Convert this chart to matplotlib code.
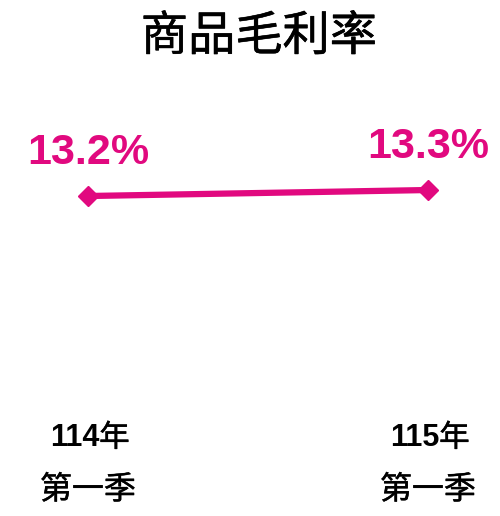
import matplotlib
matplotlib.use('Agg')
import matplotlib.pyplot as plt
import matplotlib.transforms as mtransforms
import matplotlib.patheffects as pe

plt.rcParams['font.family'] = ['Liberation Sans', 'Noto Sans CJK TC', 'DejaVu Sans']
cjk = ['Noto Sans CJK TC', 'DejaVu Sans']
semi = [pe.withStroke(linewidth=0.3, foreground='black')]

# 資料
years = ['114', '115']
year_suffix = '年'
quarters = ['第一季', '第一季']
margin = [13.2, 13.3]
labels = ['13.2%', '13.3%']

color = '#E1097F'

fig = plt.figure(figsize=(5, 5.16), dpi=100)
ax = fig.add_axes([0, 0, 1, 1])
ax.set_xlim(-0.2588, 1.2118)
ax.set_ylim(7.867, 16.467)
ax.axis('off')

x = list(range(len(margin)))
ax.plot(x, margin, color=color, lw=4.5, marker='D', markersize=10)

for xi, v, lab in zip(x, margin, labels):
    ax.annotate(lab, (xi, v), xytext=(0, 31), textcoords='offset points',
                ha='center', va='center', fontsize=31, fontweight='bold', color=color)

# x 軸標籤：數字粗體、中文一般
trans = mtransforms.blended_transform_factory(ax.transData, fig.transFigure)
for xi, yr, q in zip(x, years, quarters):
    y1 = 1 - 438 / 516
    ax.annotate(yr, (xi, y1), xycoords=trans, xytext=(8, 0), textcoords='offset points',
                ha='right', va='center', fontsize=22, fontweight='bold', color='black')
    ax.annotate(year_suffix, (xi, y1), xycoords=trans, xytext=(8, 0), textcoords='offset points',
                ha='left', va='center', fontsize=22, color='black',
                family=cjk, path_effects=semi)
    ax.text(xi, 1 - 490 / 516, q, transform=trans, ha='center', va='center',
            fontsize=23, color='black', family=cjk, path_effects=semi)

fig.text(0.518, 1 - 37 / 516, '商品毛利率', ha='center', va='center', fontsize=34,
         color='black', family=cjk, path_effects=[pe.withStroke(linewidth=0.4, foreground='black')])

fig.savefig('out.png', dpi=100)
